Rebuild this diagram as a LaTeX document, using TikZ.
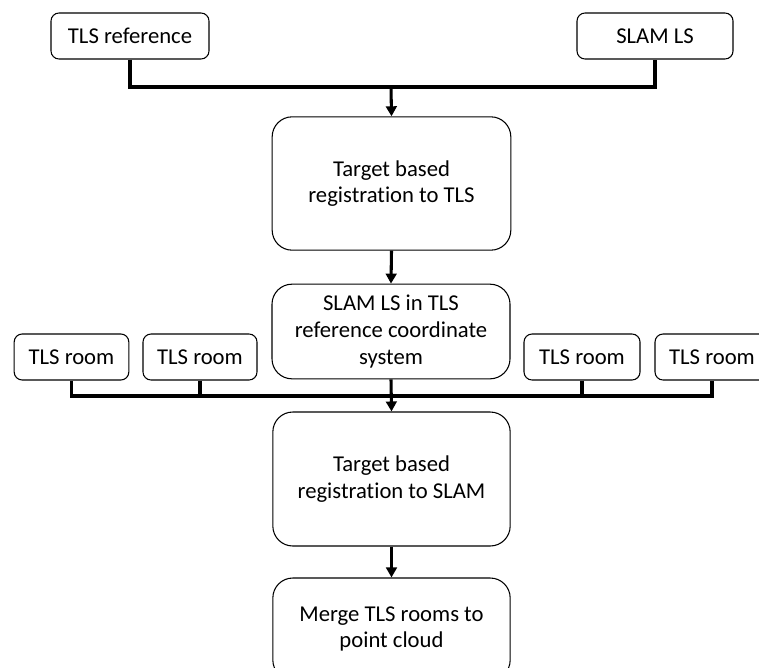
\documentclass[tikz,border=0pt]{standalone}
\usepackage{fontspec}
\setmainfont[Ligatures=NoCommon]{Carlito}
\usetikzlibrary{arrows.meta}
\begin{document}
\begin{tikzpicture}[x=0.75pt,y=-0.75pt,
  box/.style={draw=black,line width=0.8pt,rounded corners=6pt,align=center,
    inner sep=0pt,font=\fontsize{17}{20}\selectfont},
  bigbox/.style={box,rounded corners=15pt},
  conn/.style={line width=2.3pt,line join=miter},
  arr/.style={conn,-{Triangle[width=8pt,length=7.5pt]}}]
\clip (0,0) rectangle (759,667);
\fill[white] (0,0) rectangle (759,667);
\node[box,minimum width=118.5pt,minimum height=34.5pt] (ref) at (130,36) {TLS reference};
\node[box,minimum width=117pt,minimum height=34.5pt] (slam) at (655,36) {SLAM LS};
\node[bigbox,minimum width=179pt,minimum height=100pt] (t1) at (391.5,183.5) {Target based\\registration to TLS};
\node[bigbox,minimum width=178.5pt,minimum height=71pt] (t2) at (391,331.5) {SLAM LS in TLS\\reference coordinate\\system};
\node[box,minimum width=86pt,minimum height=34.5pt] (r1) at (71.5,357) {TLS room};
\node[box,minimum width=85.5pt,minimum height=34.5pt] (r2) at (200,357) {TLS room};
\node[box,minimum width=87pt,minimum height=34.5pt] (r3) at (582,357) {TLS room};
\node[box,minimum width=85.5pt,minimum height=34.5pt] (r4) at (712,357) {TLS room};
\node[bigbox,minimum width=178pt,minimum height=100.5pt] (t3) at (391.5,479) {Target based\\registration to SLAM};
\node[bigbox,minimum width=178pt,minimum height=76.5pt] (t4) at (391.5,629) {Merge TLS rooms to\\point cloud};
\coordinate (j1) at (391,87);
\coordinate (j2) at (391,396);
\draw[conn] (ref.south) -- (ref.south |- j1) -- (slam.south |- j1) -- (slam.south);
\draw[arr] (j1) -- (t1.north);
\draw[arr] (t1.south) -- (t2.north);
\draw[conn] (r1.south) -- (r1.south |- j2) -- (r4.south |- j2) -- (r4.south);
\draw[conn] (r2.south) -- (r2.south |- j2);
\draw[conn] (r3.south) -- (r3.south |- j2);
\draw[arr] (t2.south) -- (t3.north);
\draw[arr] (t3.south) -- (t4.north);
\end{tikzpicture}
\end{document}
